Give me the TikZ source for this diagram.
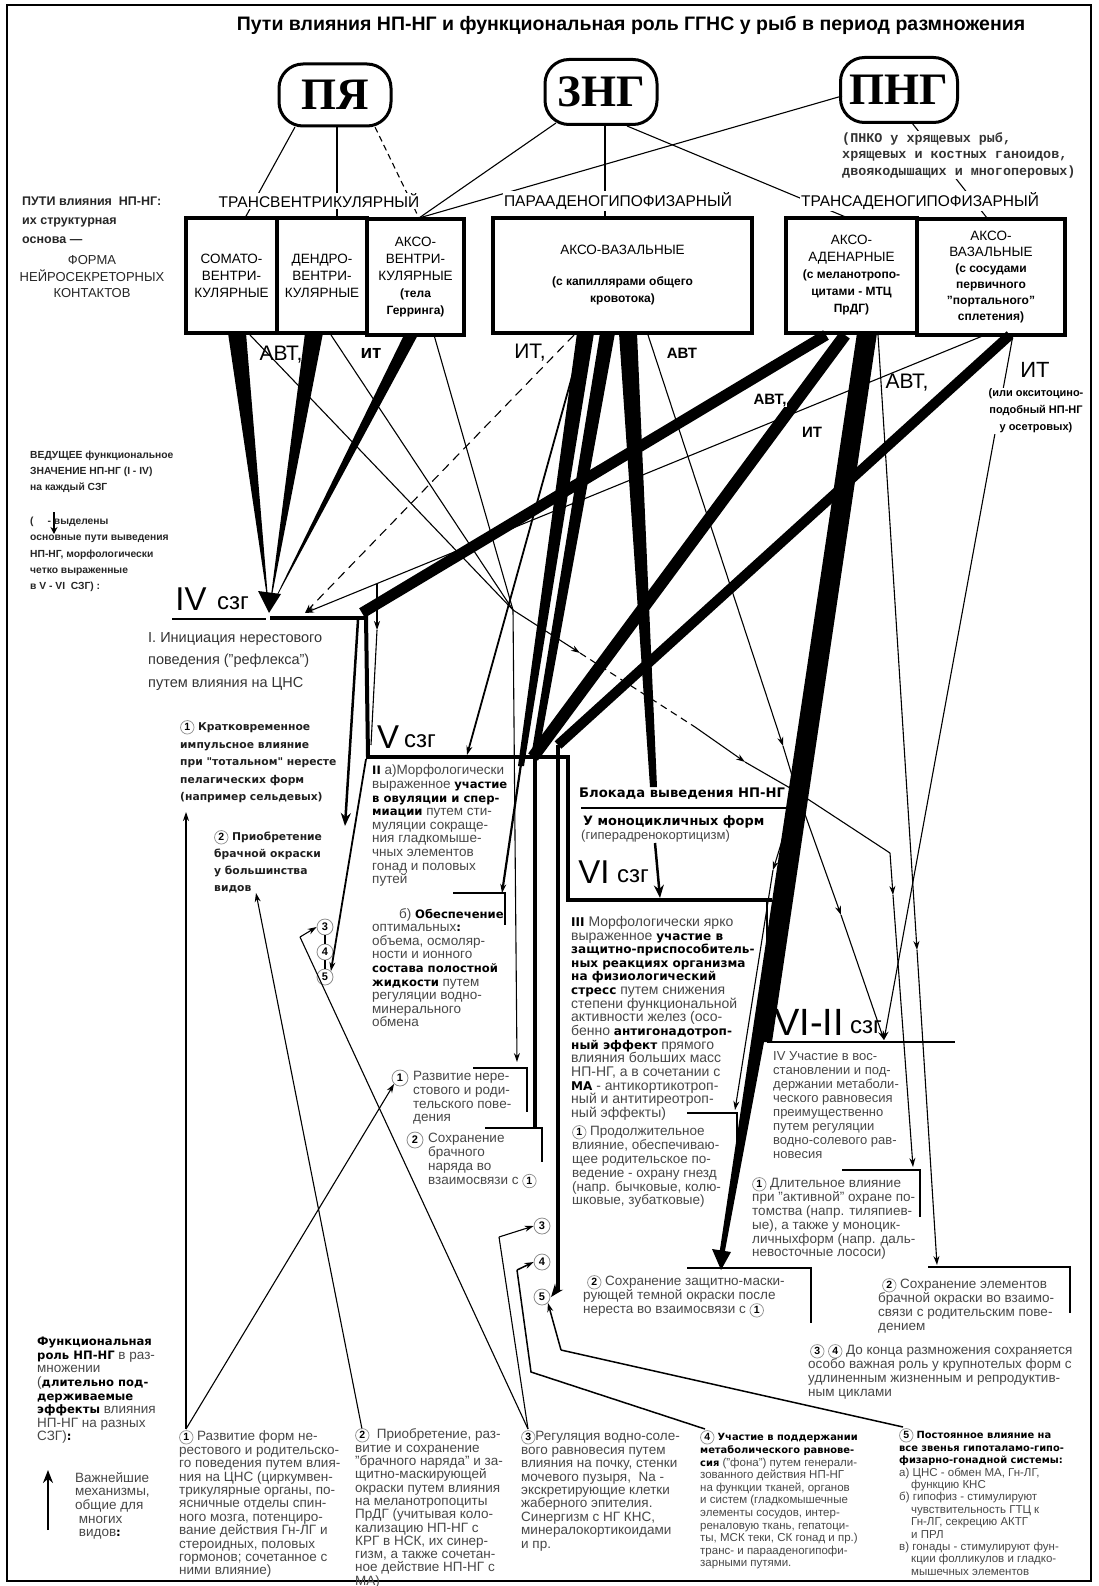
\documentclass[tikz,border=0pt]{standalone}
\usepackage{fontspec}
\setmainfont{Liberation Sans}
\newfontfamily\monof{Liberation Mono}
\newfontfamily\serf{Liberation Serif}
\newfontfamily\dvs[Scale=0.86]{DejaVu Sans}
\usetikzlibrary{arrows.meta}
\newcommand{\hb}[1]{{\dvs\bfseries\color{black}#1}}
\newcommand{\pb}[1]{{\bfseries\fontsize{12}{16}\selectfont #1}}
\newcommand{\cn}[1]{\tikz[baseline=(cc.base)]\node[circle,draw=black!45,line width=0.7pt,inner sep=0pt,minimum size=13.5pt,text=black,anchor=center,font=\rmfamily\bfseries\fontsize{10.5}{10.5}\selectfont](cc){#1};}
\tikzset{
  tl/.style={line width=1.1pt},
  ah/.style={-{Stealth[length=9pt,width=6pt]}},
  bah/.style={-{Stealth[length=13pt,width=10pt]}},
  bx/.style={draw,line width=4pt,inner sep=0pt,align=center,font=\fontsize{13.5}{17}\selectfont},
  topn/.style={draw,line width=3pt,rounded corners=24pt,inner sep=0pt,text height=30pt,text depth=0pt,font=\serf\bfseries\fontsize{45}{45}\selectfont},
  cat/.style={fill=white,inner sep=1pt,font=\fontsize{15.5}{16}\selectfont},
  lbl/.style={inner sep=0.5pt},
  body/.style={anchor=north west,inner sep=0pt,align=left,text=black!72},
  circ/.style={circle,draw=black!45,line width=0.8pt,inner sep=0pt,minimum size=16pt,fill=white,font=\bfseries\fontsize{11}{11}\selectfont},
  szg/.style={inner sep=0pt,font=\fontsize{33}{33}\selectfont},
  szgs/.style={inner sep=0pt,font=\fontsize{24}{24}\selectfont},
  brk/.style={line width=1.1pt},
}
\begin{document}
\begin{tikzpicture}[x=1pt,y=-1pt]
\useasboundingbox (0,0) rectangle (1098,1586);
\draw[line width=1.2pt] (7,5) rectangle (1091,1581);
\node[font=\bfseries\fontsize{19.5}{20}\selectfont] (title) at (631,25) {Пути влияния НП-НГ и функциональная роль ГГНС у рыб в период размножения};

% ---------- top nodes
\node[topn,minimum width=112pt,minimum height=62pt] (PYA) at (335,95) {ПЯ};
\node[topn,minimum width=112pt,minimum height=65pt] (ZNG) at (601,92) {ЗНГ};
\node[topn,minimum width=117pt,minimum height=65pt] (PNG) at (899,90) {ПНГ};

% ---------- boxes
\node[bx,minimum width=91pt,minimum height=115pt] (bSom) at (231.5,275.5) {СОМАТО-\\ВЕНТРИ-\\КУЛЯРНЫЕ};
\node[bx,minimum width=90pt,minimum height=115pt] (bDen) at (322,275.5) {ДЕНДРО-\\ВЕНТРИ-\\КУЛЯРНЫЕ};
\node[bx,minimum width=97pt,minimum height=115pt] (bAks) at (415.5,277) {АКСО-\\ВЕНТРИ-\\КУЛЯРНЫЕ\\\pb{(тела}\\\pb{Герринга)}};
\node[bx,minimum width=259pt,minimum height=115pt] (bMid) at (622.5,275.5) {АКСО-ВАЗАЛЬНЫЕ\\[14pt]\pb{(с капиллярами общего}\\\pb{кровотока)}};
\node[bx,minimum width=131pt,minimum height=115pt] (bAden) at (851.5,275.5) {АКСО-\\АДЕНАРНЫЕ\\\pb{(с меланотропо-}\\\pb{цитами - МТЦ}\\\pb{ПрДГ)}};
\node[bx,minimum width=148pt,minimum height=115pt,font=\fontsize{13.5}{16}\selectfont] (bVaz) at (991,277) {АКСО-\\ВАЗАЛЬНЫЕ\\\pb{(с сосудами}\\\pb{первичного}\\\pb{"портального"}\\\pb{сплетения)}};

% ---------- connectors top
\coordinate (pyaL) at (295,127); \coordinate (somT) at (245,218);
\coordinate (pyaM) at (337,127); \coordinate (denT) at (337,218);
\coordinate (pyaR) at (375,127); \coordinate (aksT) at (419,218);
\coordinate (zngL) at (556,123); \coordinate (pngL) at (842,96);
\coordinate (zngM) at (605,126); \coordinate (midT) at (605,218);
\coordinate (zngR) at (627,126); \coordinate (adenT) at (848,218);
\coordinate (pngB) at (912,123); \coordinate (vazT) at (987,218);
\draw[tl] (pyaL) -- (somT);
\draw[tl] (pyaM) -- (denT);
\draw[tl,dash pattern=on 6pt off 4pt] (pyaR) -- (aksT);
\draw[tl] (zngL) -- (aksT);
\draw[tl] (pngL) -- (aksT);
\draw[tl] (zngM) -- (midT);
\draw[tl] (zngR) -- (adenT);
\draw[tl] (pngB) -- (vazT);

% ---------- key points
\coordinate (IVtip) at (269,611);
\coordinate (IVt2) at (305,613);
\coordinate (IVjR) at (366,616);
\coordinate (J1) at (513,610);
\coordinate (J2) at (797,792);
\coordinate (V2arr) at (884,1040);
\coordinate (B9) at (377,584);

% wedges from left group
\fill (228,333) -- (246,333) -- (IVtip) -- cycle;
\fill (305,333) -- (323,333) -- (IVtip) -- cycle;
\fill (405,333) -- (419,333) -- (IVtip) -- cycle;
\fill (258,591) -- (281,594) -- (269,613) -- cycle;
% thin lines from left group
\draw[tl] (250,335) -- (J1);
\draw[tl] (331,335) -- (J1);
\draw[tl] (434,335) -- (J1);
\coordinate (ja) at (580,653); \coordinate (jb) at (695,727); \coordinate (jc) at (745,762);
\draw[tl,ah] (J1) -- (ja);
\draw[tl,dash pattern=on 7pt off 5pt] (ja) -- (jb);
\draw[tl,ah] (jb) -- (jc);
\draw[tl] (jc) -- (J2);
\draw[tl,ah] (J1) -- (517,1062);

% middle box lines
\fill (577,333) -- (594,333) -- (524,766) -- (518,766) -- cycle;
\draw[line width=2.2pt,ah] (521,764) -- (502,893);
\draw[line width=1.8pt,ah] (583,337) -- (467,755);
\fill (600,333) -- (615,333) -- (538,757) -- (531,757) -- cycle;
\fill (619,333) -- (637,333) -- (657,787) -- (650,787) -- cycle;
\coordinate (m4a) at (783,746);
\draw[tl,ah] (648,335) -- (m4a); \draw[tl] (m4a) -- (J2);
\draw[tl,dash pattern=on 9pt off 6pt,ah] (574,335) -- (IVt2);

% right group lines
\draw[line width=11pt] (826,335) -- (362,613);
\draw[line width=12pt] (845,335) -- (533,757);
\draw[line width=10pt] (1010,335) -- (558,745);
\fill (857,333) -- (877,333) -- (772,1042) -- (764,1042) -- (724,1256) -- (719,1256) -- cycle;
\fill (712,1249) -- (731,1252) -- (721,1270) -- cycle;
\coordinate (r7m) at (917,950);
\draw[tl,ah] (878,335) -- (r7m); \draw[tl,ah] (r7m) -- (937,1265);
\draw[tl,ah] (1013,335) -- (V2arr);
\draw[tl,ah] (985,335) -- (IVt2);
% from junction J2
\coordinate (j2a) at (773,870);
\draw[tl,ah] (J2) -- (j2a); \draw[tl,ah] (j2a) -- (735,1110);
\coordinate (j2b) at (841,915);
\draw[tl,ah] (J2) -- (j2b); \draw[tl,ah] (j2b) -- (V2arr);
\coordinate (j2c) at (890,853); \coordinate (j2d) at (893,895);
\draw[tl] (J2) -- (j2c); \draw[tl,ah] (j2c) -- (j2d); \draw[tl,ah] (j2d) -- (913,1167);

% ---------- IV / V / VI structures
\draw[line width=1.5pt] (172,619) -- (266,619);
\draw[line width=3.5pt] (270,618) -- (367,618);
\draw[line width=4pt] (IVjR) -- (368,757);
\draw[line width=2.5pt,bah] (358,620) -- (345,826);
\draw[tl,ah] (B9) -- (377,630);
\draw[tl] (377,630) -- (371,745);
\draw[line width=4pt] (366,757) -- (568,757) -- (568,900) -- (772,900);
\draw[tl] (767,900) -- (767,1042);
\draw[line width=4pt] (558,745) -- (558,1290);
\draw[line width=3pt,bah] (558,1288) -- (551,1297);
\draw[line width=3.5pt] (535,757) -- (535,1128);
\draw[line width=2.5pt,bah] (655,843) -- (660,898);
\draw[line width=2.5pt] (767,1042) -- (955,1042);
\draw[line width=1.2pt] (581,808) -- (795,808);

% brackets
\draw[brk] (453,893) -- (505,893) -- (505,925);
\draw[brk] (473,1068) -- (527,1068) -- (527,1112);
\draw[brk] (485,1128) -- (542,1128) -- (542,1162);
\draw[brk] (687,1113) -- (737,1113) -- (737,1160);
\draw[brk] (842,1170) -- (920,1170) -- (920,1217);
\draw[brk] (928,1267) -- (1070,1267) -- (1070,1313);
\draw[brk] (687,1268) -- (811,1268) -- (811,1323);

% ---------- circles
\node[circ] (c3a) at (325,927) {3};
\node[circ] (c4a) at (325,952) {4};
\node[circ] (c5a) at (325,977) {5};
\draw[tl] (c3a.south) -- (c4a.north); \draw[tl] (c4a.south) -- (c5a.north);
\draw[line width=1.8pt,ah] (366,759) -- (c5a.north east);
\node[circ] (c3b) at (542,1226) {3};
\node[circ] (c4b) at (542,1262) {4};
\node[circ] (c5b) at (542,1297) {5};
\node[circ] (r1c) at (400,1078) {1};
\node[circ] (r2c) at (415,1140) {2};

% bottom anchors
\coordinate (b1) at (186,1429);
\coordinate (b2) at (362,1429);
\coordinate (b3) at (528,1429);
\coordinate (b4) at (705,1429);
\coordinate (b5) at (903,1427);
\draw[tl,ah] (b1) -- (186,812);
\draw[tl,ah] (b1) -- (r1c.south west);
\draw[tl,ah] (b2) -- (256,893);
\draw[tl] (b3) -- (300,937); \draw[tl,ah] (300,937) -- (c3a.west);
\draw[tl] (b3) -- (499,1237); \draw[tl,ah] (499,1237) -- (c3b.west);
\draw[line width=1.5pt] (b4) -- (531,1372) -- (517,1270); \draw[line width=1.5pt,ah] (517,1270) -- (c4b.west);
\draw[line width=1.5pt] (b5) -- (561,1350); \draw[line width=1.5pt,ah] (561,1350) -- (c5b.south east);
\draw[line width=2pt,bah] (48,1530) -- (48,1470);
\draw[line width=2.5pt,-{Stealth[length=7pt,width=7pt]}] (54,512) -- (54,534);

% ---------- labels over lines
\node[cat] (cTV) at (319,201) {ТРАНСВЕНТРИКУЛЯРНЫЙ};
\node[cat] (cPA) at (618,201) {ПАРААДЕНОГИПОФИЗАРНЫЙ};
\node[cat] (cTA) at (920,201) {ТРАНСАДЕНОГИПОФИЗАРНЫЙ};
\node[anchor=north west,inner sep=1pt,fill=white,align=left,text=black!80,font=\monof\bfseries\fontsize{13.4}{16.5}\selectfont] (pnote) at (841,131) {(ПНКО у хрящевых рыб,\\хрящевых и костных ганоидов,\\двоякодышащих и многоперовых)};
\node[lbl,font=\fontsize{21}{21}\selectfont] (lAVT1) at (281,355) {АВТ,};
\node[lbl,font=\bfseries\fontsize{19}{19}\selectfont] (lit1) at (371,353) {ит};
\node[lbl,font=\fontsize{21}{21}\selectfont] (lIT2) at (530,353) {ИТ,};
\node[lbl,font=\bfseries\fontsize{15}{15}\selectfont] (lAVT2) at (682,353) {АВТ};
\node[lbl,fill=white,font=\bfseries\fontsize{15}{15}\selectfont] (lAVT3) at (770,400) {АВТ,};
\node[lbl,font=\bfseries\fontsize{15}{15}\selectfont] (lIT3) at (812,432) {ИТ};
\node[lbl,font=\fontsize{21}{21}\selectfont] (lAVT4) at (907,383) {АВТ,};
\node[lbl,font=\fontsize{22}{22}\selectfont] (lIT4) at (1035,370) {ИТ};
\node[lbl,fill=white,align=center,font=\bfseries\fontsize{11}{17}\selectfont] (lIT4n) at (1036,411) {(или окситоцино-\\подобный НП-НГ\\у осетровых)};

% ---------- left captions
\node[body,text=black!85,font=\bfseries\fontsize{12.5}{19}\selectfont] (capA) at (22,197) {ПУТИ влияния \ НП-НГ:\\их структурная\\основа —};
\node[align=center,inner sep=0pt,text=black!85,font=\fontsize{13}{16.5}\selectfont] (capB) at (92,277) {ФОРМА\\НЕЙРОСЕКРЕТОРНЫХ\\КОНТАКТОВ};
\node[body,text=black!85,font=\bfseries\fontsize{10.3}{16}\selectfont] (capC) at (30,451) {ВЕДУЩЕЕ функциональное\\ЗНАЧЕНИЕ НП-НГ (I - IV)\\на каждый СЗГ};
\node[body,text=black!85,font=\bfseries\fontsize{10.3}{16.2}\selectfont] (capD) at (30,517) {(\hspace{14pt}- выделены\\основные пути выведения\\НП-НГ, морфологически\\четко выраженные\\в V - VI \ СЗГ) \textbf{:}};

% ---------- stage labels
\node[szg] (IVt) at (191,599) {IV}; \node[szgs] (IVs) at (233,603) {сзг};
\node[szg] (Vt) at (388,737) {V}; \node[szgs] (Vs) at (420,741) {сзг};
\node[szg] (VIt) at (594,872) {VI}; \node[szgs] (VIs) at (633,876) {сзг};
\node[inner sep=0pt,font=\fontsize{38}{38}\selectfont] (VIIt) at (809,1022) {VI-II}; \node[szgs] (VIIs) at (866,1027) {сзг};

% ---------- text blocks
\node[body,text=black!80,font=\fontsize{14.5}{22.5}\selectfont] (tI) at (148,632) {I. Инициация нерестового\\поведения ("рефлекса")\\путем влияния на ЦНС};
\node[body,text=black!88,font=\dvs\bfseries\fontsize{12.5}{17.5}\selectfont] (t1) at (180,720) {\cn{1} Кратковременное\\импульсное влияние\\при "тотальном" нересте\\пелагических форм\\(например сельдевых)};
\node[body,text=black!88,font=\dvs\bfseries\fontsize{12.5}{17}\selectfont] (t2) at (214,830) {\cn{2} Приобретение\\брачной окраски\\у большинства\\видов};

\node[body,font=\fontsize{13.5}{13.6}\selectfont] (tII) at (372,765) {\hb{II} а)Морфологически\\выраженное \hb{участие}\\\hb{в овуляции и спер-}\\\hb{миации} путем сти-\\муляции сокраще-\\ния гладкомыше-\\чных элементов\\гонад и половых\\путей};
\node[body,font=\fontsize{13.5}{13.6}\selectfont] (tIIb) at (372,908) {\hspace*{27pt}б) \hb{Обеспечение}\\оптимальных\hb{:}\\объема, осмоляр-\\ности и ионного\\\hb{состава полостной}\\\hb{жидкости} путем\\регуляции водно-\\минерального\\обмена};

\node[anchor=west,inner sep=0pt,font=\dvs\bfseries\fontsize{15.3}{16}\selectfont] (blok) at (579,794) {Блокада выведения НП-НГ};
\node[anchor=west,inner sep=0pt,font=\dvs\bfseries\fontsize{15}{16}\selectfont] (mono) at (583,822) {У моноцикличных форм};
\node[anchor=west,inner sep=0pt,text=black!72,font=\fontsize{13}{14}\selectfont] (giper) at (581,836) {(гиперадренокортицизм)};

\node[body,font=\fontsize{14}{13.65}\selectfont] (tIII) at (571,916) {\hb{III} Морфологически ярко\\выраженное \hb{участие в}\\\hb{защитно-приспособитель-}\\\hb{ных реакциях организма}\\\hb{на физиологический}\\\hb{стресс} путем снижения\\степени функциональной\\активности желез (осо-\\бенно \hb{антигонадотроп-}\\\hb{ный эффект} прямого\\влияния больших масс\\НП-НГ, а в сочетании с\\\hb{МА} - антикортикотроп-\\ный и антитиреотроп-\\ный эффекты)};
\node[body,font=\fontsize{13.5}{13.8}\selectfont] (tIII1) at (572,1125) {\cn{1} Продолжительное\\влияние, обеспечиваю-\\щее родительское по-\\ведение - охрану гнезд\\(напр. бычковые, колю-\\шковые, зубатковые)};
\node[body,font=\fontsize{13.5}{14}\selectfont] (tIII2) at (583,1275) {\hspace*{4pt}\cn{2} Сохранение защитно-маски-\\рующей темной окраски после\\нереста во взаимосвязи с \cn{1}};

\node[body,font=\fontsize{13.5}{13.8}\selectfont] (tR1) at (413,1071) {Развитие нере-\\стового и роди-\\тельского пове-\\дения};
\node[body,font=\fontsize{13.5}{14}\selectfont] (tR2) at (428,1133) {Сохранение\\брачного\\наряда во\\взаимосвязи с \cn{1}};

\node[body,font=\fontsize{13}{14}\selectfont] (tIV) at (773,1051) {IV Участие в вос-\\становлении и под-\\держании метаболи-\\ческого равновесия\\преимущественно\\путем регуляции\\водно-солевого рав-\\новесия};
\node[body,font=\fontsize{13.5}{13.8}\selectfont] (tIV1) at (752,1177) {\cn{1} Длительное влияние\\при "активной" охране по-\\томства (напр. тиляпиев-\\ые), а также у моноцик-\\личныхформ (напр. даль-\\невосточные лососи)};
\node[body,font=\fontsize{13.5}{14}\selectfont] (tIV2) at (878,1278) {\hspace*{4pt}\cn{2} Сохранение элементов\\брачной окраски во взаимо-\\связи с родительским пове-\\дением};
\node[body,font=\fontsize{13.5}{14}\selectfont] (t34) at (808,1344) {\hspace*{2pt}\cn{3} \cn{4} До конца размножения сохраняется\\особо важная роль у крупнотелых форм с\\удлиненным жизненным и репродуктив-\\ным циклами};

\node[body,font=\fontsize{13.5}{13.6}\selectfont] (tF) at (37,1337) {\hb{Функциональная}\\\hb{роль НП-НГ} в раз-\\множении\\(\hb{длительно под-}\\\hb{держиваемые}\\\hb{эффекты} влияния\\НП-НГ на разных\\СЗГ)\hb{:}};
\node[body,font=\fontsize{13.5}{13.6}\selectfont] (tV) at (75,1472) {Важнейшие\\механизмы,\\общие для\\\ многих\\\ видов\hb{:}};

\node[body,font=\fontsize{13.5}{13.4}\selectfont] (tb1) at (179,1430) {\cn{1} Развитие форм не-\\рестового и родительско-\\го поведения путем влия-\\ния на ЦНС (циркумвен-\\трикулярные органы, по-\\ясничные отделы спин-\\ного мозга, потенциро-\\вание действия Гн-ЛГ и\\стероидных, половых\\гормонов; сочетанное с\\ними влияние)};
\node[body,font=\fontsize{13.5}{13.3}\selectfont] (tb2) at (355,1428) {\cn{2} \ Приобретение, раз-\\витие и сохранение\\"брачного наряда" и за-\\щитно-маскирующей\\окраски путем влияния\\на меланотропоциты\\ПрДГ (учитывая коло-\\кализацию НП-НГ с\\КРГ в НСК, их синер-\\гизм, а также сочетан-\\ное действие НП-НГ с\\МА)};
\node[body,font=\fontsize{13.5}{13.4}\selectfont] (tb3) at (521,1430) {\cn{3}Регуляция водно-соле-\\вого равновесия путем\\влияния на почку, стенки\\мочевого пузыря, \ Na -\\экскретирующие клетки\\жаберного эпителия.\\Синергизм с НГ КНС,\\минералокортикоидами\\и пр.};
\node[body,font=\fontsize{11.5}{12.6}\selectfont] (tb4) at (700,1430) {\cn{4} \hb{Участие в поддержании}\\\hb{метаболического равнове-}\\\hb{сия} ("фона") путем генерали-\\зованного действия НП-НГ\\на функции тканей, органов\\и систем (гладкомышечные\\элементы сосудов, интер-\\реналовую ткань, гепатоци-\\ты, МСК теки, СК гонад и пр.)\\транс- и парааденогипофи-\\зарными путями.};
\node[body,font=\fontsize{11.5}{12.4}\selectfont] (tb5) at (899,1428) {\cn{5} \hb{Постоянное влияние на}\\\hb{все звенья гипоталамо-гипо-}\\\hb{физарно-гонадной системы}\hb{:}\\а) ЦНС - обмен МА, Гн-ЛГ,\\\hspace*{12pt}функцию КНС\\б) гипофиз - стимулируют\\\hspace*{12pt}чувствительность ГТЦ к\\\hspace*{12pt}Гн-ЛГ, секрецию АКТГ\\\hspace*{12pt}и ПРЛ\\в) гонады - стимулируют фун-\\\hspace*{12pt}кции фолликулов и гладко-\\\hspace*{12pt}мышечных элементов};
\end{tikzpicture}
\end{document}
